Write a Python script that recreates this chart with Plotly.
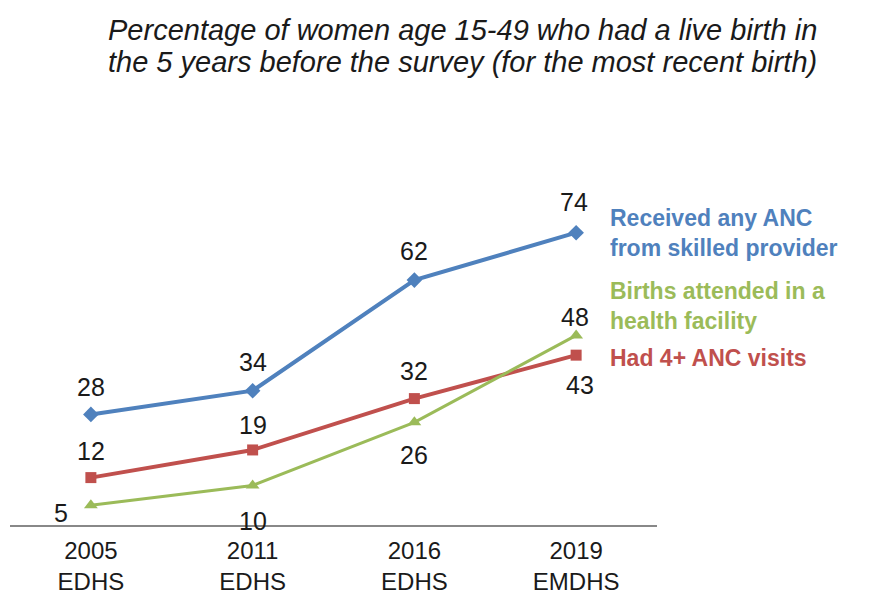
import plotly.graph_objects as go

categories = ["2005<br>EDHS", "2011<br>EDHS", "2016<br>EDHS", "2019<br>EMDHS"]
anc_skilled = [28, 34, 62, 74]
anc_4plus = [12, 19, 32, 43]
facility_births = [5, 10, 26, 48]

series_names = ["Received any ANC<br>from skilled provider",
                "Births attended in a<br>health facility",
                "Had 4+ ANC visits"]
title_lines = ["Percentage of women age 15-49 who had a live birth in",
               "the 5 years before the survey (for the most recent birth)"]

BLUE = "#4f81bd"
RED = "#c0504d"
GREEN = "#9bbb59"
TXT = "#1a1a1a"
FONT = "Liberation Sans, Arial, sans-serif"

fig = go.Figure()
fig.add_trace(go.Scatter(x=categories, y=anc_skilled, mode="lines+markers",
                         line=dict(color=BLUE, width=4),
                         marker=dict(symbol="diamond", size=12, color=BLUE),
                         showlegend=False))
fig.add_trace(go.Scatter(x=categories, y=anc_4plus, mode="lines+markers",
                         line=dict(color=RED, width=4),
                         marker=dict(symbol="square", size=11, color=RED),
                         showlegend=False))
fig.add_trace(go.Scatter(x=categories, y=facility_births, mode="lines+markers",
                         line=dict(color=GREEN, width=3),
                         marker=dict(symbol="triangle-up", size=12, color=GREEN),
                         showlegend=False))

lab_font = dict(family=FONT, size=25, color=TXT)
def lab(xi, val, xs, ys):
    fig.add_annotation(x=categories[xi], y=val, text=str(val), showarrow=False,
                       xshift=xs, yshift=ys, font=lab_font)

blue_shifts = [(0, 27), (0, 29), (0, 29), (-2, 31)]
red_shifts = [(0, 27), (0, 25), (0, 28), (4, -30)]
green_shifts = [(-30, -8), (0, -35), (0, -33), (-1, 18)]
for i, v in enumerate(anc_skilled):
    lab(i, v, *blue_shifts[i])
for i, v in enumerate(anc_4plus):
    lab(i, v, *red_shifts[i])
for i, v in enumerate(facility_births):
    lab(i, v, *green_shifts[i])

name_font = dict(family=FONT, size=23)
fig.add_annotation(x=categories[3], y=anc_skilled[3], text="<b>" + series_names[0] + "</b>",
                   showarrow=False, xanchor="left", yanchor="middle", align="left",
                   xshift=32, yshift=0, font=dict(name_font, color=BLUE))
fig.add_annotation(x=categories[3], y=facility_births[3], text="<b>" + series_names[1] + "</b>",
                   showarrow=False, xanchor="left", yanchor="middle", align="left",
                   xshift=32, yshift=29, font=dict(name_font, color=GREEN))
fig.add_annotation(x=categories[3], y=anc_4plus[3], text="<b>" + series_names[2] + "</b>",
                   showarrow=False, xanchor="left", yanchor="middle", align="left",
                   xshift=32, yshift=-3, font=dict(name_font, color=RED))

# title lines
for yp, line in zip([1.5655, 1.4650], title_lines):
    fig.add_annotation(xref="paper", yref="paper", x=0.700, y=yp, text="<i>" + line + "</i>",
                       showarrow=False, xanchor="center", yanchor="middle",
                       font=dict(family=FONT, size=29, color=TXT))

fig.update_layout(
    width=853, height=589,
    margin=dict(l=2, r=204, t=200.5, b=72),
    paper_bgcolor="white", plot_bgcolor="white",
    xaxis=dict(type="category", range=[-0.5, 3.5], showline=True, linecolor="#888",
               linewidth=1.5, showgrid=False, zeroline=False, ticks="",
               automargin=False, ticklabelstandoff=3,
               tickfont=dict(family=FONT, size=24, color=TXT)),
    yaxis=dict(range=[0, 80], visible=False, showgrid=False, zeroline=False),
)

fig.write_html("out.html")
